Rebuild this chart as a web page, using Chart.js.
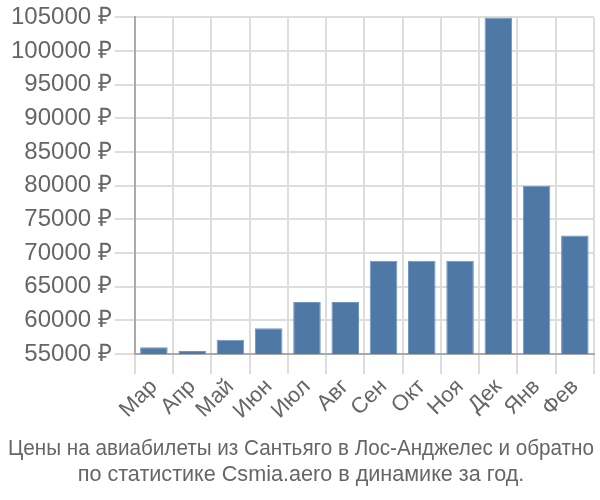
<!DOCTYPE html>
<html>
<head>
<meta charset="utf-8">
<script src="https://cdn.jsdelivr.net/npm/chart.js@4/dist/chart.umd.min.js"></script>
<style>
  html, body { margin: 0; padding: 0; background: #fff; }
  #wrap { width: 600px; height: 500px; }
</style>
</head>
<body>
<div id="wrap"><canvas id="chart" width="600" height="500"></canvas></div>
<script>
var months = ['Мар', 'Апр', 'Май', 'Июн', 'Июл', 'Авг', 'Сен', 'Окт', 'Ноя', 'Дек', 'Янв', 'Фев'];
var prices = [56000, 55450, 57100, 58800, 62700, 62700, 68850, 68850, 68850, 105000, 80000, 72600];
var titleLines = ['Цены на авиабилеты из Сантьяго в Лос-Анджелес и обратно', 'по статистике Csmia.aero в динамике за год.'];

var font = 'Liberation Sans, Arial, sans-serif';

new Chart(document.getElementById('chart').getContext('2d'), {
  type: 'bar',
  data: {
    labels: months,
    datasets: [{
      data: prices,
      backgroundColor: '#4e79a7',
      borderColor: '#7396bd',
      borderWidth: 1
    }]
  },
  options: {
    responsive: false,
    animation: false,
    layout: { padding: { top: 3, right: 6, left: 8, bottom: 0 } },
    plugins: {
      legend: { display: false },
      tooltip: { enabled: false },
      title: {
        display: true,
        position: 'bottom',
        text: titleLines,
        color: '#666',
        font: { family: font, size: 21.6, weight: 'normal' },
        padding: { top: 12, bottom: 12 },
        lineHeight: 1.2
      }
    },
    scales: {
      x: {
        grid: { color: '#dddddd', lineWidth: 2, tickLength: 20, offset: true },
        border: { color: '#aaaaaa', width: 2 },
        ticks: {
          color: '#666',
          font: { family: font, size: 22 },
          autoSkip: false,
          maxRotation: 45,
          minRotation: 45,
          padding: 0
        }
      },
      y: {
        min: 55000,
        max: 105000,
        grid: { color: '#dddddd', lineWidth: 2, tickLength: 20 },
        border: { color: '#aaaaaa', width: 2 },
        ticks: {
          stepSize: 5000,
          color: '#666',
          font: { family: font, size: 24 },
          padding: 3,
          callback: function (v) { return v + ' ₽'; }
        }
      }
    }
  }
});
</script>
</body>
</html>
